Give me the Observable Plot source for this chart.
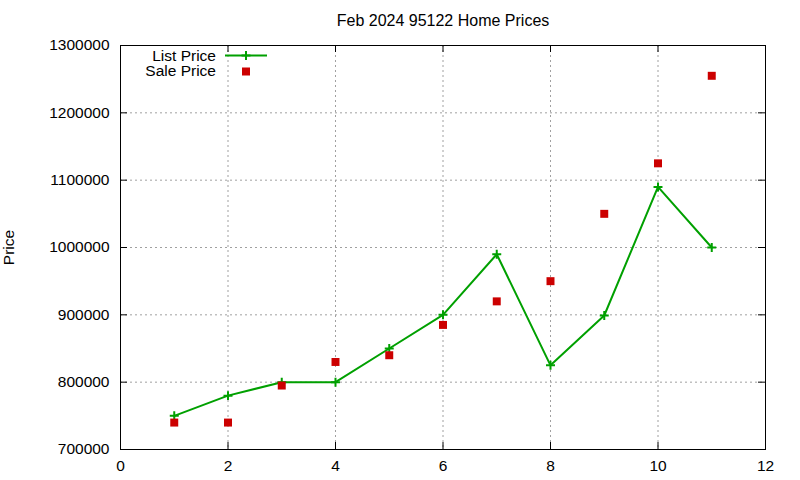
<!DOCTYPE html>
<html>
<head>
<meta charset="utf-8">
<script src="https://cdn.jsdelivr.net/npm/d3@7"></script>
<script src="https://cdn.jsdelivr.net/npm/@observablehq/plot@0.6"></script>
<style>
  html, body { margin: 0; padding: 0; background: #fff; }
  #chart svg { display: block; }
</style>
</head>
<body>
<div id="chart"></div>
<script>
const title = "Feb 2024 95122 Home Prices";
const months = [1, 2, 3, 4, 5, 6, 7, 8, 9, 10, 11];
const listPrice = [750000, 780000, 800000, 800000, 850000, 900000, 990000, 825000, 899000, 1090000, 1000000];
const salePrice = [740000, 740000, 795000, 830000, 840000, 885000, 920000, 950000, 1050000, 1125000, 1255000];
const xTicks = [0, 2, 4, 6, 8, 10, 12];
const yTicks = [700000, 800000, 900000, 1000000, 1100000, 1200000, 1300000];
const seriesNames = ["List Price", "Sale Price"];

const green = "#00a000";
const red = "#cc0000";
const font = "Liberation Sans, Arial, sans-serif";

const W = 800, H = 480, mL = 120, mR = 35, mT = 45, mB = 31;
const fw = W - mL - mR, fh = H - mT - mB, tk = 7;

const listData = months.map((m, i) => ({x: m, y: listPrice[i]}));
const saleData = months.map((m, i) => ({x: m, y: salePrice[i]}));

const chart = Plot.plot({
  width: W,
  height: H,
  marginLeft: mL,
  marginRight: mR,
  marginTop: mT,
  marginBottom: mB,
  style: {fontFamily: font, fontSize: "15.5px", color: "#000", background: "#fff"},
  x: {domain: [0, 12]},
  y: {domain: [700000, 1300000]},
  marks: [
    Plot.gridX(xTicks.slice(1, -1), {stroke: "#a0a0a0", strokeOpacity: 1, strokeDasharray: "2,3"}),
    Plot.gridY(yTicks.slice(1, -1), {stroke: "#a0a0a0", strokeOpacity: 1, strokeDasharray: "2,3"}),
    Plot.axisX(xTicks, {anchor: "bottom", tickSize: 0, tickPadding: 10, fontSize: 15.5, label: null}),
    Plot.axisY(yTicks, {anchor: "left", tickSize: 0, tickPadding: 11, fontSize: 15.5, tickFormat: d3.format("d"), label: "Price", labelAnchor: "center", labelArrow: "none", labelOffset: 118}),
    Plot.tickX(xTicks, {x: d => d, stroke: "#000", insetTop: fh - tk}),
    Plot.tickX(xTicks, {x: d => d, stroke: "#000", insetBottom: fh - tk}),
    Plot.tickY(yTicks, {y: d => d, stroke: "#000", insetRight: fw - tk}),
    Plot.tickY(yTicks, {y: d => d, stroke: "#000", insetLeft: fw - tk}),
    Plot.frame({stroke: "#000", strokeWidth: 1}),
    Plot.line(listData, {x: "x", y: "y", stroke: green, strokeWidth: 2}),
    Plot.dot(listData, {x: "x", y: "y", symbol: "plus", stroke: green, strokeWidth: 2, r: 3}),
    Plot.dot(saleData, {x: "x", y: "y", symbol: "square", fill: red, stroke: "none", r: 4.5}),
    Plot.text([title], {frameAnchor: "top", lineAnchor: "middle", dy: -25, fontSize: 16, fill: "#000"})
  ]
});

// legend (gnuplot style, inside plot area, top-left)
const svg = d3.select(chart);
const lg = svg.append("g").attr("font-family", font).attr("font-size", 15.5);
const rows = [{name: seriesNames[0], y: 55.5, kind: "line"}, {name: seriesNames[1], y: 71, kind: "square"}];
for (const r of rows) {
  lg.append("text").attr("x", 216).attr("y", r.y).attr("dy", "0.35em").attr("text-anchor", "end").text(r.name);
  if (r.kind === "line") {
    lg.append("line").attr("x1", 225).attr("x2", 267).attr("y1", r.y).attr("y2", r.y).attr("stroke", green).attr("stroke-width", 2);
    lg.append("path").attr("d", d3.symbol(d3.symbolPlus, Math.PI * 9)()).attr("transform", `translate(246,${r.y})`).attr("stroke", green).attr("stroke-width", 2).attr("fill", "none");
  } else {
    lg.append("rect").attr("x", 242).attr("y", r.y - 3.5).attr("width", 8).attr("height", 8).attr("fill", red);
  }
}

document.getElementById("chart").append(chart);
</script>
</body>
</html>
